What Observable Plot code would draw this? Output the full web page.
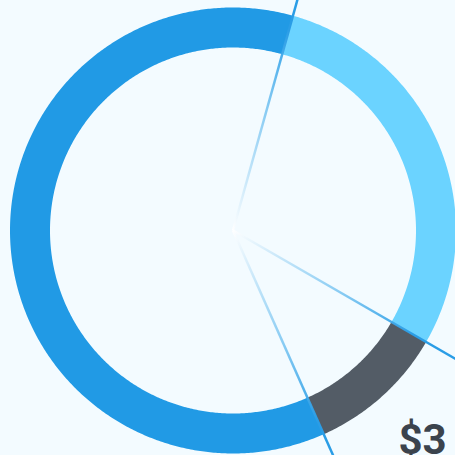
<!DOCTYPE html>
<html>
<head>
<meta charset="utf-8">
<script src="https://cdn.jsdelivr.net/npm/d3@7"></script>
<script src="https://cdn.jsdelivr.net/npm/@observablehq/plot@0.6"></script>
<style>
  html, body { margin: 0; padding: 0; background: #f3fbff; overflow: hidden; }
  #chart { width: 455px; height: 455px; }
</style>
</head>
<body>
<div id="chart"></div>
<script>
// Data
const categories = ["Light", "Dark", "Main"];
const values = [29, 10, 61];
const labels = ["", "$3", ""];
const startAngleDeg = 15.6;

// Palette (styles)
const palette = ["#6bd3ff", "#535c66", "#219ae5"];

// Geometry (pixels relative to center)
const R = 223, r = 183;
const total = d3.sum(values);
let acc = startAngleDeg;
const segs = categories.map((c, i) => {
  const a0 = acc, a1 = acc + values[i] / total * 360;
  acc = a1;
  return {name: c, value: values[i], label: labels[i], a0, a1, color: palette[i]};
});
const rad = d => d * Math.PI / 180;
function arcPoints(s) {
  const pts = [];
  const n = Math.max(2, Math.ceil((s.a1 - s.a0) * 2));
  for (let k = 0; k <= n; k++) {
    const a = rad(s.a0 + (s.a1 - s.a0) * k / n);
    pts.push({x: R * Math.sin(a), y: R * Math.cos(a)});
  }
  for (let k = n; k >= 0; k--) {
    const a = rad(s.a0 + (s.a1 - s.a0) * k / n);
    pts.push({x: r * Math.sin(a), y: r * Math.cos(a)});
  }
  return pts;
}
const L = 1.25 * R;
const rays = segs.map(s => ({a: s.a0, x2: L * Math.sin(rad(s.a0)), y2: L * Math.cos(rad(s.a0))}));
const upRays = rays.filter(d => d.y2 > 0);
const downRays = rays.filter(d => d.y2 <= 0);
const labelR = 1.27 * R;
const labelData = segs.filter(s => s.label).map(s => {
  const m = rad((s.a0 + s.a1) / 2);
  return {text: s.label, x: labelR * Math.sin(m), y: labelR * Math.cos(m)};
});

function defs() {
  const g = d3.create("svg:defs");
  const mk = (id, x1, y1, x2, y2) => {
    const lg = g.append("linearGradient").attr("id", id)
      .attr("x1", x1).attr("y1", y1).attr("x2", x2).attr("y2", y2);
    lg.append("stop").attr("offset", 0).attr("stop-color", "#ffffff").attr("stop-opacity", 0.9);
    lg.append("stop").attr("offset", 0.45).attr("stop-color", "#6cbff0").attr("stop-opacity", 0.8);
    lg.append("stop").attr("offset", 0.75).attr("stop-color", "#2a9de6").attr("stop-opacity", 1);
    lg.append("stop").attr("offset", 1).attr("stop-color", "#2a9de6").attr("stop-opacity", 1);
  };
  mk("gradUR", 0, 1, 1, 0);
  mk("gradDR", 0, 0, 1, 1);
  return g.node();
}

const chart = Plot.plot({
  width: 455,
  height: 455,
  margin: 0,
  x: {domain: [-232.5, 222.5], range: [0, 455], axis: null},
  y: {domain: [-225, 230], range: [455, 0], axis: null},
  style: {background: "#f3fbff", overflow: "hidden"},
  marks: [
    defs,
    ...segs.map(s => Plot.line(arcPoints(s), {x: "x", y: "y", fill: s.color, stroke: "none"})),
    Plot.link(upRays, {x1: 0, y1: 0, x2: "x2", y2: "y2", stroke: "url(#gradUR)", strokeWidth: 2.5}),
    Plot.link(downRays, {x1: 0, y1: 0, x2: "x2", y2: "y2", stroke: "url(#gradDR)", strokeWidth: 2.5}),
    Plot.text(labelData, {x: "x", y: "y", text: "text", fontSize: 42, fontWeight: "bold",
      fontFamily: "Roboto, sans-serif", fill: "#3b434d", textAnchor: "middle", lineAnchor: "middle"})
  ]
});
document.getElementById("chart").appendChild(chart);
</script>
</body>
</html>
